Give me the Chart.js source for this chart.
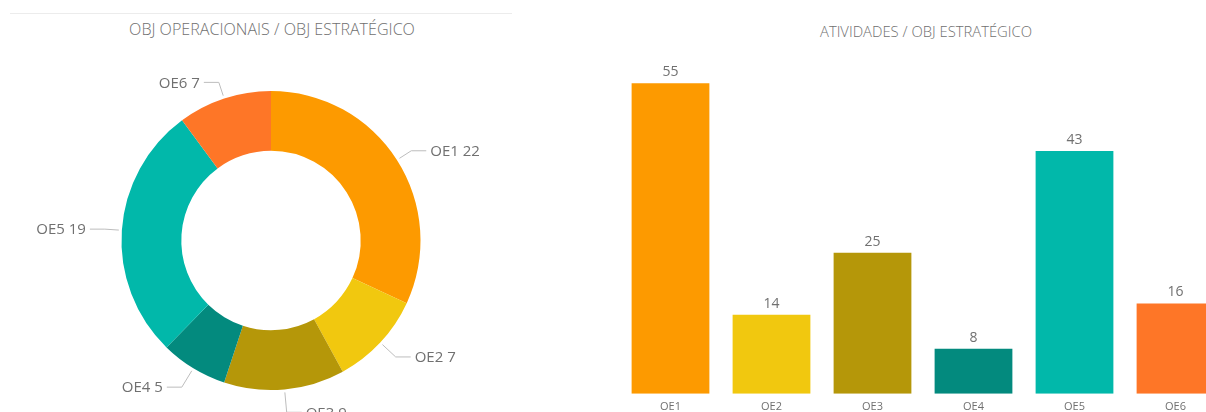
<!DOCTYPE html>
<html>
<head>
<meta charset="utf-8">
<script src="https://cdn.jsdelivr.net/npm/chart.js@4"></script>
<style>
  html, body { margin: 0; padding: 0; background: #fff; overflow: hidden; width: 1206px; height: 412px; position: relative; font-family: 'Open Sans', sans-serif; }
  .linha-topo { position: absolute; left: 10px; top: 13px; width: 502px; height: 1px; background: #ececec; }
  .titulo { position: absolute; color: #707070; white-space: nowrap; transform: translateX(-50%); font-weight: 300; }
  #tituloRosca { left: 272px; top: 18px; font-size: 16.1px; }
  #tituloBarras { left: 926px; top: 21px; font-size: 14.8px; }
  #graficoRosca { position: absolute; left: 0; top: 0; }
  #graficoBarras { position: absolute; left: 600px; top: 7px; }
</style>
</head>
<body>
<div class="linha-topo"></div>
<div class="titulo" id="tituloRosca">OBJ OPERACIONAIS / OBJ ESTRATÉGICO</div>
<div class="titulo" id="tituloBarras">ATIVIDADES / OBJ ESTRATÉGICO</div>
<canvas id="graficoRosca" width="542" height="412"></canvas>
<canvas id="graficoBarras" width="640" height="412"></canvas>
<script>
const categorias = ['OE1', 'OE2', 'OE3', 'OE4', 'OE5', 'OE6'];
const objOperacionais = [22, 7, 9, 5, 19, 7];
const atividades = [55, 14, 25, 8, 43, 16];
const cores = ['#fd9a00', '#f1c80f', '#b59709', '#038a7e', '#01b8aa', '#fe7627'];

const corTexto = '#707070';
const fonteBase = "'Open Sans', sans-serif";

// rótulos com linha guia para a rosca
const rotulosRosca = {
    id: 'rotulosRosca',
    afterDatasetsDraw(chart) {
        const ctx = chart.ctx;
        const meta = chart.getDatasetMeta(0);
        ctx.save();
        ctx.font = '15px ' + fonteBase;
        ctx.textBaseline = 'middle';
        meta.data.forEach((arco, i) => {
            const p = arco.getProps(['x', 'y', 'startAngle', 'endAngle', 'outerRadius'], true);
            const meio = (p.startAngle + p.endAngle) / 2;
            const dx = Math.cos(meio), dy = Math.sin(meio);
            // na metade de baixo a guia fica um pouco mais comprida
            const guia = 17 + 6 * Math.max(dy, 0);
            const x1 = p.x + (p.outerRadius + 3) * dx, y1 = p.y + (p.outerRadius + 3) * dy;
            const x2 = p.x + (p.outerRadius + guia) * dx, y2 = p.y + (p.outerRadius + guia) * dy;
            const lado = dx >= 0 ? 1 : -1;
            const x3 = x2 + lado * 15;
            ctx.strokeStyle = '#bdbdbd';
            ctx.lineWidth = 1;
            ctx.beginPath();
            ctx.moveTo(x1, y1);
            ctx.lineTo(x2, y2);
            ctx.lineTo(x3, y2);
            ctx.stroke();
            ctx.fillStyle = corTexto;
            ctx.textAlign = lado > 0 ? 'left' : 'right';
            ctx.fillText(categorias[i] + ' ' + objOperacionais[i], x3 + lado * 4, y2 + 1);
        });
        ctx.restore();
    }
};

// valores acima das barras
const valoresBarras = {
    id: 'valoresBarras',
    afterDatasetsDraw(chart) {
        const ctx = chart.ctx;
        const meta = chart.getDatasetMeta(0);
        ctx.save();
        ctx.font = '14px ' + fonteBase;
        ctx.fillStyle = corTexto;
        ctx.textAlign = 'center';
        ctx.textBaseline = 'bottom';
        meta.data.forEach((barra, i) => {
            ctx.fillText(atividades[i], barra.x, barra.y - 4);
        });
        ctx.restore();
    }
};

new Chart(document.getElementById('graficoRosca'), {
    type: 'doughnut',
    data: {
        labels: categorias,
        datasets: [{
            data: objOperacionais,
            backgroundColor: cores,
            borderWidth: 0,
            hoverOffset: 0,
            offset: 0
        }]
    },
    options: {
        responsive: false,
        animation: false,
        cutout: '60%',
        layout: { padding: { top: 91, bottom: 22, left: 0, right: 0 } },
        plugins: {
            legend: { display: false },
            tooltip: { enabled: false }
        }
    },
    plugins: [rotulosRosca]
});

new Chart(document.getElementById('graficoBarras'), {
    type: 'bar',
    data: {
        labels: categorias,
        datasets: [{
            data: atividades,
            backgroundColor: cores,
            borderWidth: 0,
            categoryPercentage: 1,
            barPercentage: 0.77
        }]
    },
    options: {
        responsive: false,
        animation: false,
        layout: { padding: { top: 48, bottom: 0, left: 20, right: 14 } },
        plugins: {
            legend: { display: false },
            tooltip: { enabled: false }
        },
        scales: {
            y: {
                display: false,
                beginAtZero: true,
                max: 60
            },
            x: {
                grid: { display: false, drawTicks: false, tickLength: 0 },
                border: { display: false },
                ticks: {
                    color: corTexto,
                    padding: 6,
                    font: { family: fonteBase, size: 11 }
                }
            }
        }
    },
    plugins: [valoresBarras]
});
</script>
</body>
</html>
